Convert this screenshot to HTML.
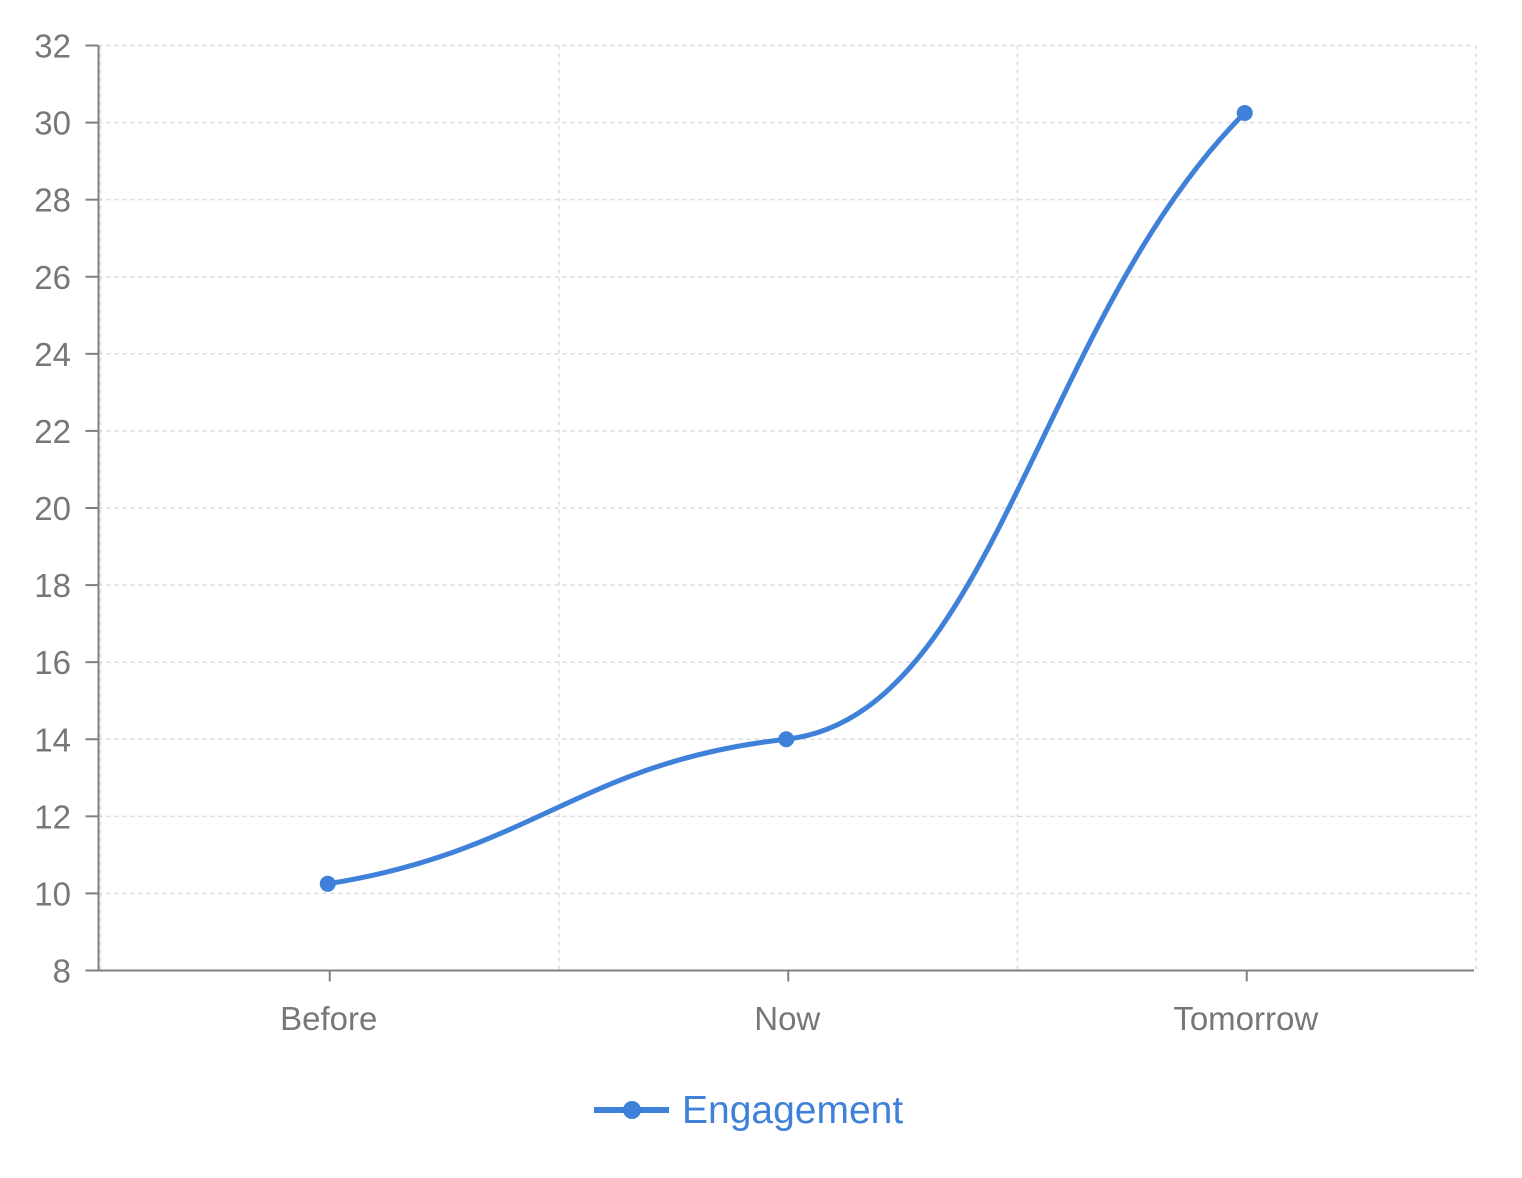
<!DOCTYPE html>
<html><head><meta charset="utf-8"><style>
html,body{margin:0;padding:0;background:#fff;}
svg text{font-family:"Liberation Sans",Arial,sans-serif;}
</style></head><body>
<svg id="chart" width="1522" height="1173" xmlns="http://www.w3.org/2000/svg"></svg>
<script>
const categories = ["Before", "Now", "Tomorrow"];
const engagement = [10.25, 14.0, 30.25];
const yTicks = [8, 10, 12, 14, 16, 18, 20, 22, 24, 26, 28, 30, 32];
const seriesName = "Engagement";

const svg = document.getElementById('chart');
const NS = 'http://www.w3.org/2000/svg';
const L = 98.5, R = 1474, T = 45.5, B = 970.5;
const yMin = 8, yMax = 32;
const band = (R - L) / categories.length;
const x = i => L + band * (i + 0.5);
const y = v => B - (v - yMin) / (yMax - yMin) * (B - T);
const BLUE = '#3f80d9';

function mk(tag, attrs, parent) {
  const e = document.createElementNS(NS, tag);
  for (const k in attrs) e.setAttribute(k, attrs[k]);
  (parent || svg).appendChild(e);
  return e;
}

// grid
const grid = mk('g', {});


yTicks.forEach(t => {
  const g = mk('line', {x1: L, x2: R, y1: y(t), y2: y(t), stroke: '#dcdcdc', 'stroke-width': 1.5, 'stroke-dasharray': '4,4'}, grid);
  
  
});
for (let i = 0; i <= categories.length; i++) {
  const gx = L + band * i + 2;
  const g = mk('line', {x1: gx, x2: gx, y1: T, y2: B, stroke: '#dcdcdc', 'stroke-width': 1.5, 'stroke-dasharray': '4,4'}, grid);
  
  
}

// axes
const ya = mk('line', {x1: L, x2: L, y1: T, y2: B, stroke: '#808080', 'stroke-width': 2});


const xa = mk('line', {x1: L, x2: R, y1: B, y2: B, stroke: '#808080', 'stroke-width': 2});



yTicks.forEach(t => {
  const tk = mk('line', {x1: L - 13, x2: L, y1: y(t), y2: y(t), stroke: '#808080', 'stroke-width': 2});
  
  
  const tx = mk('text', {x: 71, y: y(t) + 12, 'text-anchor': 'end', 'font-size': 33, fill: '#777'});
  tx.textContent = t;
  
  
});
categories.forEach((c, i) => {
  const tk = mk('line', {x1: x(i) + 2, x2: x(i) + 2, y1: B, y2: B + 11, stroke: '#808080', 'stroke-width': 2});
  
  
  const tx = mk('text', {x: x(i) + 1, y: 1030, 'text-anchor': 'middle', 'font-size': 33, fill: '#777'});
  tx.textContent = c;
  
  
});

// smooth curve: Bezier with per-point tangents derived from neighbouring chord slopes
const px = categories.map((c, i) => x(i));
const py = engagement.map(v => y(v));
const n = px.length;
const s = [];
for (let i = 0; i < n - 1; i++) s.push((py[i + 1] - py[i]) / (px[i + 1] - px[i]));
const m = new Array(n);
for (let i = 0; i < n; i++) {
  if (i === 0) m[i] = 0.5 * s[0];
  else if (i === n - 1) m[i] = 0.73 * s[n - 2];
  else m[i] = 0.35 * Math.min(Math.abs(s[i - 1]), Math.abs(s[i])) * Math.sign(s[i - 1] + s[i]);
}
let d = 'M' + px[0] + ',' + py[0];
for (let i = 0; i < n - 1; i++) {
  const dx = (px[i + 1] - px[i]) * 0.45;
  d += ' C' + (px[i] + dx) + ',' + (py[i] + m[i] * dx) + ' ' + (px[i + 1] - dx) + ',' + (py[i + 1] - m[i + 1] * dx) + ' ' + px[i + 1] + ',' + py[i + 1];
}
const line = mk('path', {d: d, fill: 'none', stroke: BLUE, 'stroke-width': 5});


engagement.forEach((v, i) => {
  const c = mk('circle', {cx: x(i), cy: y(v), r: 8, fill: BLUE});
  
  
});

// legend
const lg = mk('g', {});


mk('line', {x1: 594, x2: 669, y1: 1110, y2: 1110, stroke: BLUE, 'stroke-width': 6}, lg);
mk('circle', {cx: 632, cy: 1110, r: 9, fill: BLUE}, lg);
const lt = mk('text', {x: 682, y: 1123, 'font-size': 39, fill: BLUE}, lg);
lt.textContent = seriesName;


</script>
</body></html>
